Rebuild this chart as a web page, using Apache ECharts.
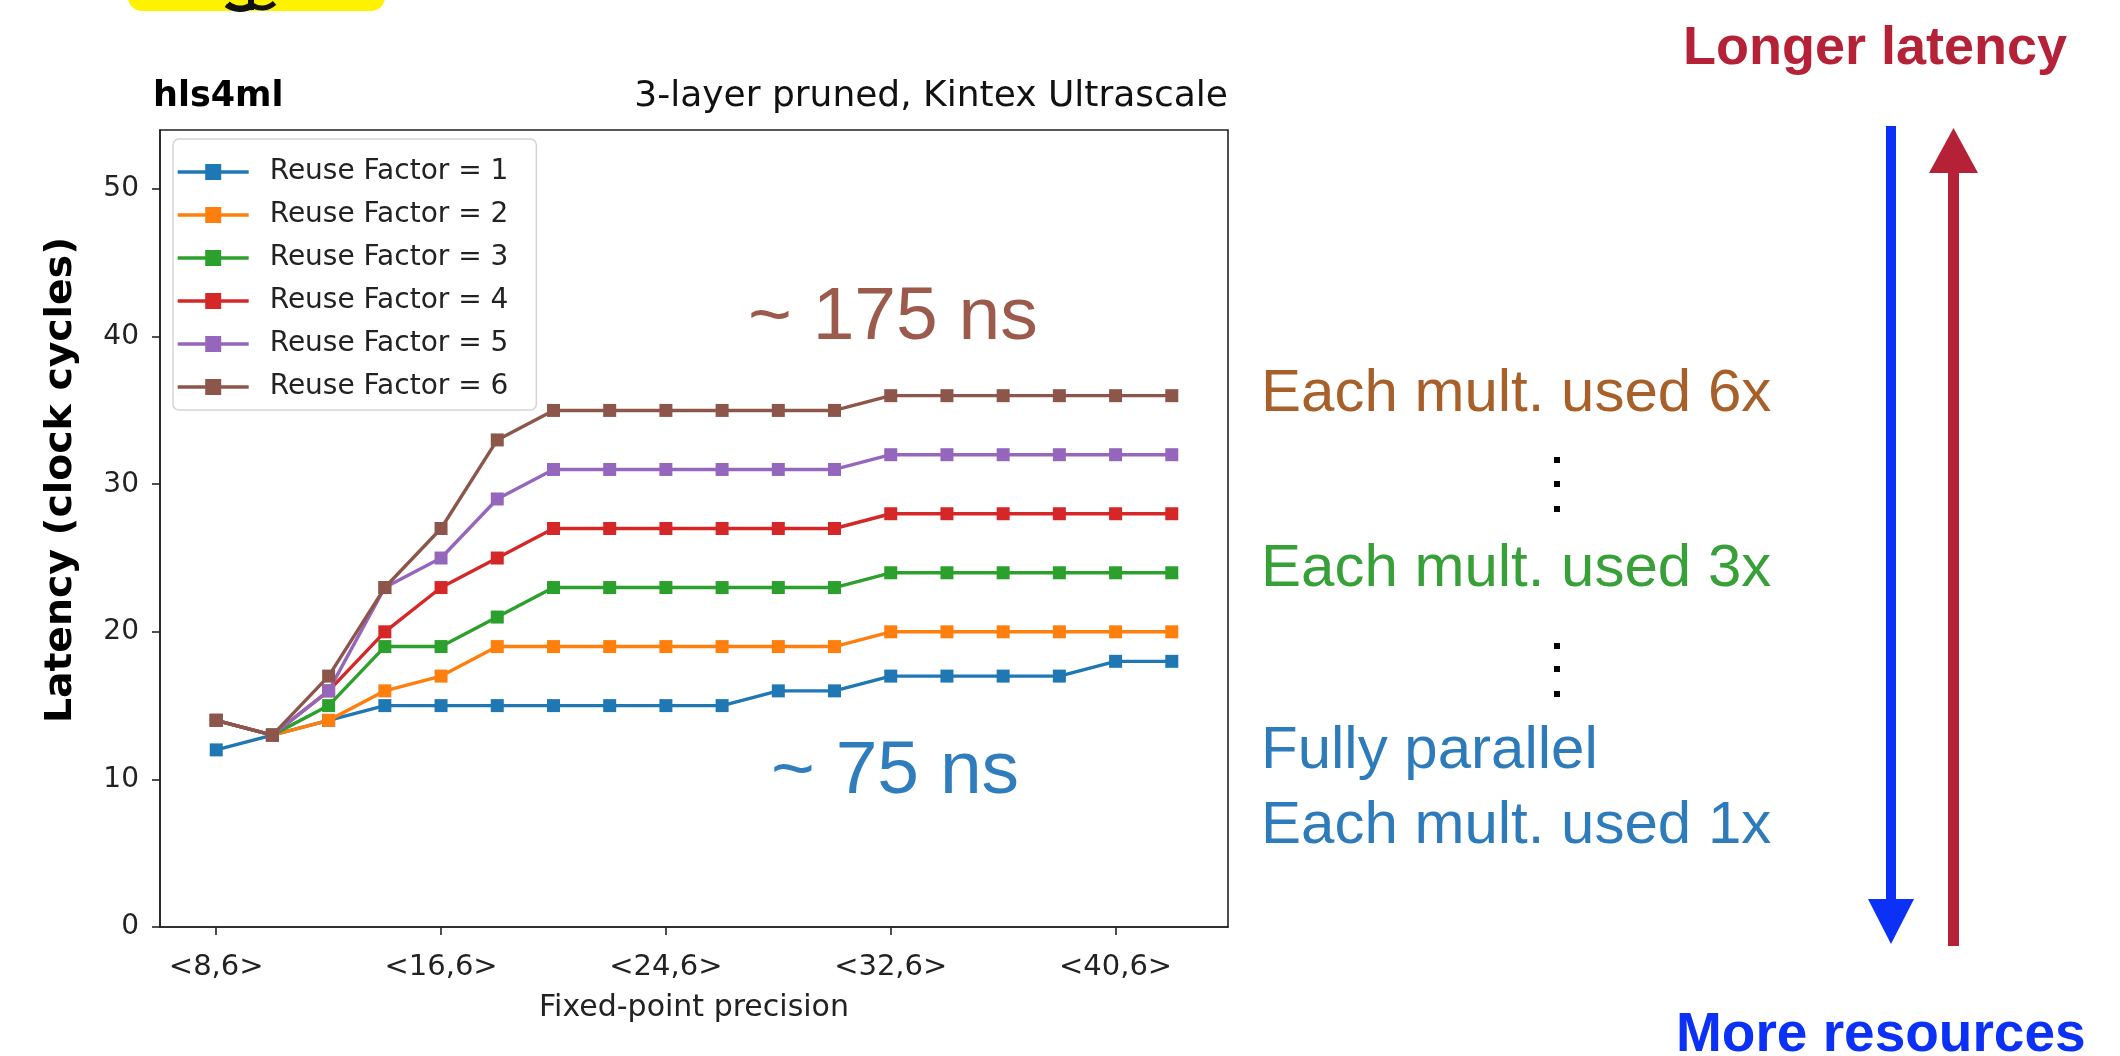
<!DOCTYPE html>
<html>
<head>
<meta charset="utf-8">
<title>hls4ml latency vs precision</title>
<script src="https://cdn.jsdelivr.net/npm/echarts@6/dist/echarts.min.js"></script>
<style>
  html, body { margin: 0; padding: 0; background: #fff; }
  #chart { width: 2120px; height: 1056px; }
</style>
</head>
<body>
<div id="chart"></div>
<script>
// Total bit width of the fixed-point type <W,6>
const bitWidths = [8, 10, 12, 14, 16, 18, 20, 22, 24, 26, 28, 30, 32, 34, 36, 38, 40, 42];
const tickWidths = [8, 16, 24, 32, 40];
const yTicks = [0, 10, 20, 30, 40, 50];

const seriesNames = [
  'Reuse Factor = 1', 'Reuse Factor = 2', 'Reuse Factor = 3',
  'Reuse Factor = 4', 'Reuse Factor = 5', 'Reuse Factor = 6'
];

// Latency in clock cycles for each reuse factor
const rf1 = [12, 13, 14, 15, 15, 15, 15, 15, 15, 15, 16, 16, 17, 17, 17, 17, 18, 18];
const rf2 = [14, 13, 14, 16, 17, 19, 19, 19, 19, 19, 19, 19, 20, 20, 20, 20, 20, 20];
const rf3 = [14, 13, 15, 19, 19, 21, 23, 23, 23, 23, 23, 23, 24, 24, 24, 24, 24, 24];
const rf4 = [14, 13, 16, 20, 23, 25, 27, 27, 27, 27, 27, 27, 28, 28, 28, 28, 28, 28];
const rf5 = [14, 13, 16, 23, 25, 29, 31, 31, 31, 31, 31, 31, 32, 32, 32, 32, 32, 32];
const rf6 = [14, 13, 17, 23, 27, 33, 35, 35, 35, 35, 35, 35, 36, 36, 36, 36, 36, 36];

const palette = ['#1f77b4', '#ff7f0e', '#2ca02c', '#d62728', '#9467bd', '#8c564b'];
const latencies = [rf1, rf2, rf3, rf4, rf5, rf6];

const mpl = 'DejaVu Sans, sans-serif';
const helv = 'Liberation Sans, Arial, sans-serif';

const chart = echarts.init(document.getElementById('chart'), null, { renderer: 'canvas' });

const series = latencies.map((vals, k) => ({
  name: seriesNames[k],
  type: 'line',
  data: vals.map((v, i) => [bitWidths[i], v]),
  symbol: 'rect',
  symbolSize: 13,
  showSymbol: true,
  itemStyle: { color: palette[k] },
  lineStyle: { color: palette[k], width: 3.4 },
  emphasis: { disabled: true },
  animation: false,
  z: 2 + k
}));

// Side annotations: arrows and explanatory text
const blue = '#0b30f6';
const red = '#b52238';
const dot = (x, y) => ({ type: 'rect', shape: { x: x, y: y, width: 6, height: 6 }, style: { fill: '#000' } });
const sideGraphics = [
  // hls4ml logo peeking in at the top edge
  { type: 'rect', shape: { x: 128, y: -30, width: 257, height: 41, r: 14 }, style: { fill: '#fff200' } },
  { type: 'arc', shape: { cx: 240, cy: -10, r: 18, startAngle: 0.9, endAngle: 2.3 }, style: { stroke: '#111', lineWidth: 5, fill: null } },
  { type: 'arc', shape: { cx: 240, cy: -14, r: 24, startAngle: 1.0, endAngle: 2.2 }, style: { stroke: '#111', lineWidth: 4, fill: null } },
  { type: 'arc', shape: { cx: 262, cy: -10, r: 18, startAngle: 0.8, endAngle: 2.2 }, style: { stroke: '#111', lineWidth: 5, fill: null } },
  { type: 'rect', shape: { x: 248, y: 0, width: 6, height: 10 }, style: { fill: '#111' } },

  // downward blue arrow
  { type: 'rect', shape: { x: 1886, y: 126, width: 10, height: 780 }, style: { fill: blue } },
  { type: 'polygon', shape: { points: [[1868, 899], [1914, 899], [1891, 944]] }, style: { fill: blue } },
  // upward red arrow
  { type: 'rect', shape: { x: 1948, y: 168, width: 11, height: 778 }, style: { fill: red } },
  { type: 'polygon', shape: { points: [[1929, 173], [1978, 173], [1953.5, 128]] }, style: { fill: red } },

  { type: 'text', x: 1683, y: 49, style: { text: 'Longer latency', font: 'bold 54px ' + helv, fill: red, verticalAlign: 'middle' } },
  { type: 'text', x: 1676, y: 1036, style: { text: 'More resources', font: 'bold 55px ' + helv, fill: blue, verticalAlign: 'middle' } },

  { type: 'text', x: 1261, y: 394, style: { text: 'Each mult. used 6x', font: '60px ' + helv, fill: '#a8602a', verticalAlign: 'middle' } },
  { type: 'text', x: 1261, y: 569, style: { text: 'Each mult. used 3x', font: '60px ' + helv, fill: '#38a038', verticalAlign: 'middle' } },
  { type: 'text', x: 1261, y: 751, style: { text: 'Fully parallel', font: '60px ' + helv, fill: '#2d7bba', verticalAlign: 'middle' } },
  { type: 'text', x: 1261, y: 826, style: { text: 'Each mult. used 1x', font: '60px ' + helv, fill: '#2d7bba', verticalAlign: 'middle' } },

  // vertical ellipses
  dot(1554, 457), dot(1554, 481), dot(1554, 506),
  dot(1554, 643), dot(1554, 666), dot(1554, 691),

  // latency call-outs inside the plot
  { type: 'text', x: 748, y: 318, style: { text: '~ 175 ns', font: '75px ' + helv, fill: '#9b5a4c', verticalAlign: 'middle' }, z: 20 },
  { type: 'text', x: 771, y: 772, style: { text: '~ 75 ns', font: '75px ' + helv, fill: '#2f7dbd', verticalAlign: 'middle' }, z: 20 },

  // plot titles
  { type: 'text', x: 153, y: 97, style: { text: 'hls4ml', font: 'bold 35px ' + mpl, fill: '#000', verticalAlign: 'middle' } },
  { type: 'text', x: 1228, y: 97, style: { text: '3-layer pruned, Kintex Ultrascale', font: '36px ' + mpl, fill: '#111', align: 'right', verticalAlign: 'middle' } },

  // y-axis title
  {
    type: 'text', x: 61, y: 480, rotation: Math.PI / 2, scaleX: 1.15,
    style: { text: 'Latency (clock cycles)', font: "bold 38px 'Liberation Sans Narrow', 'DejaVu Sans Condensed', sans-serif", fill: '#000', align: 'center', verticalAlign: 'middle' }
  }
];

const option = {
  backgroundColor: '#fff',
  animation: false,
  grid: {
    left: 160, top: 130, right: 892, bottom: 129,
    show: true, borderColor: '#222', borderWidth: 1.6, backgroundColor: 'transparent'
  },
  legend: {
    orient: 'vertical',
    left: 173, top: 139,
    padding: [18, 28, 8, 3],
    itemWidth: 71, itemHeight: 20, itemGap: 13,
    backgroundColor: 'rgba(255,255,255,0.85)',
    borderColor: '#d4d4d4', borderWidth: 1.5, borderRadius: 6,
    lineStyle: { width: 3.4 },
    textStyle: { fontFamily: mpl, fontSize: 28, color: '#222', lineHeight: 30, padding: [0, 0, 0, 16] },
    data: seriesNames,
    z: 10
  },
  xAxis: {
    type: 'value',
    min: 6, max: 44,
    name: 'Fixed-point precision',
    nameLocation: 'middle', nameGap: 66,
    nameTextStyle: { fontFamily: mpl, fontSize: 30, color: '#222' },
    axisLine: { show: true, onZero: false, lineStyle: { color: '#222', width: 1.6 } },
    axisTick: { show: true, inside: false, length: 8, customValues: tickWidths, lineStyle: { color: '#222', width: 1.6 } },
    axisLabel: { customValues: tickWidths, margin: 26, fontFamily: mpl, fontSize: 29, color: '#222', formatter: v => '<' + v + ',6>' },
    splitLine: { show: false }
  },
  yAxis: {
    type: 'value',
    min: 0, max: 54,
    axisLine: { show: true, lineStyle: { color: '#222', width: 1.6 } },
    axisTick: { show: true, inside: false, length: 8, customValues: yTicks, lineStyle: { color: '#222', width: 1.6 } },
    axisLabel: { customValues: yTicks, margin: 21, fontFamily: mpl, fontSize: 28, color: '#222' },
    splitLine: { show: false }
  },
  graphic: { elements: sideGraphics },
  series: series
};

chart.setOption(option);
</script>
</body>
</html>
